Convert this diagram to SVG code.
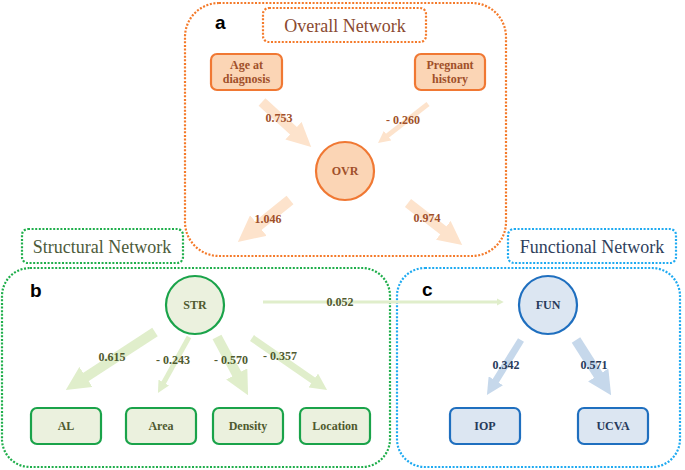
<svg xmlns="http://www.w3.org/2000/svg" width="685" height="470" viewBox="0 0 685 470">
<style>
.frame{fill:none;stroke-width:2.2;stroke-dasharray:2 1.6}
.of{stroke:#f47a2a}.gf{stroke:#1fae4b}.bf{stroke:#1eaaf1}
.title{font-family:"Liberation Serif",serif;font-size:18px;text-anchor:middle}
.letter{font-family:"Liberation Sans",Arial,sans-serif;font-weight:bold;font-size:19px;fill:#000}
.nt{font-family:"Liberation Serif",serif;font-weight:bold;font-size:12px;text-anchor:middle}
.on{fill:#fbd5b5;stroke:#f07833;stroke-width:2.2}
.gn{fill:#ebf1de;stroke:#1aa34a;stroke-width:2.2}
.bn{fill:#dce6f2;stroke:#1f6fbf;stroke-width:2.2}
.ot{fill:#a0502a}.gt{fill:#4f5a2f}.bt{fill:#263a5a}
.oa{stroke:#fde3cc;fill:none}.ga{stroke:#e0eecb;fill:none}.ba{stroke:#c6d8eb;fill:none}
</style>
<defs>
<marker id="ho" viewBox="0 0 10 10" refX="2" refY="5" markerWidth="2.4" markerHeight="2.4" orient="auto" markerUnits="strokeWidth"><path d="M0,0 L10,5 L0,10 z" fill="#fde3cc"/></marker>
<marker id="hg" viewBox="0 0 10 10" refX="2" refY="5" markerWidth="2.4" markerHeight="2.4" orient="auto" markerUnits="strokeWidth"><path d="M0,0 L10,5 L0,10 z" fill="#e0eecb"/></marker>
<marker id="hb" viewBox="0 0 10 10" refX="2" refY="5" markerWidth="2.4" markerHeight="2.4" orient="auto" markerUnits="strokeWidth"><path d="M0,0 L10,5 L0,10 z" fill="#c6d8eb"/></marker>
</defs>
<rect width="685" height="470" fill="#fff"/>

<g id="frames">
<rect class="frame of" x="185" y="3" width="321" height="253" rx="34"/>
<rect class="frame of" x="263" y="8" width="163" height="34" rx="6"/>
<rect class="frame gf" x="2" y="268" width="388" height="199" rx="28"/>
<rect class="frame gf" x="22" y="229" width="161" height="34" rx="6"/>
<rect class="frame bf" x="397" y="268" width="283" height="199" rx="28"/>
<rect class="frame bf" x="508" y="229" width="168" height="34" rx="6"/>
<text class="title" x="345" y="32" fill="#8a4a30">Overall Network</text>
<text class="title" x="102" y="253" fill="#4d5b3a">Structural Network</text>
<text class="title" x="592" y="253" fill="#2f3f5c">Functional Network</text>
<text class="letter" x="215" y="29">a</text>
<text class="letter" x="30" y="297">b</text>
<text class="letter" x="422" y="296">c</text>
</g>

<g id="connectors">
<line class="oa" stroke-width="10" x1="262" y1="102" x2="297" y2="134" marker-end="url(#ho)"/>
<line class="oa" stroke-width="5" x1="428" y1="104" x2="385.6" y2="137.1" marker-end="url(#ho)"/>
<line class="oa" stroke-width="11" x1="290" y1="200" x2="254.3" y2="228.8" marker-end="url(#ho)"/>
<line class="oa" stroke-width="10" x1="408" y1="203" x2="447" y2="233.3" marker-end="url(#ho)"/>
<line class="ga" stroke-width="10" x1="155" y1="332" x2="81.9" y2="379.6" marker-end="url(#hg)"/>
<line class="ga" stroke-width="5" x1="189" y1="337" x2="162.6" y2="384.6" marker-end="url(#hg)"/>
<line class="ga" stroke-width="10" x1="217" y1="337" x2="239" y2="378.2" marker-end="url(#hg)"/>
<line class="ga" stroke-width="7" x1="252" y1="338" x2="316" y2="382.4" marker-end="url(#hg)"/>
<line class="ga" stroke-width="3" x1="263" y1="302" x2="498" y2="302" marker-end="url(#hg)"/>
<line class="ba" stroke-width="7" x1="521" y1="340" x2="494" y2="383.6" marker-end="url(#hb)"/>
<line class="ba" stroke-width="10" x1="576" y1="340" x2="600.8" y2="379" marker-end="url(#hb)"/>
<text class="nt ot" x="279" y="122">0.753</text>
<text class="nt ot" x="403" y="124">- 0.260</text>
<text class="nt ot" x="268" y="223">1.046</text>
<text class="nt ot" x="427" y="222">0.974</text>
<text class="nt gt" x="112" y="361">0.615</text>
<text class="nt gt" x="173" y="364">- 0.243</text>
<text class="nt gt" x="231" y="364">- 0.570</text>
<text class="nt gt" x="280" y="360">- 0.357</text>
<text class="nt gt" x="340" y="306">0.052</text>
<text class="nt bt" x="506" y="369">0.342</text>
<text class="nt bt" x="594" y="369">0.571</text>
</g>

<g id="age">
<rect class="on" x="211" y="54" width="71" height="36" rx="6"/>
<text class="nt ot" x="246.5" y="69">Age at</text>
<text class="nt ot" x="246.5" y="83">diagnosis</text>
</g>
<g id="pregnant">
<rect class="on" x="415" y="54" width="70" height="36" rx="6"/>
<text class="nt ot" x="450" y="69">Pregnant</text>
<text class="nt ot" x="450" y="83">history</text>
</g>
<g id="ovr">
<circle class="on" cx="345" cy="171" r="29"/>
<text class="nt ot" x="345" y="175">OVR</text>
</g>
<g id="str">
<circle class="gn" cx="195" cy="305" r="29"/>
<text class="nt gt" x="195" y="309">STR</text>
</g>
<g id="al">
<rect class="gn" x="31" y="408" width="70" height="36" rx="6"/>
<text class="nt gt" x="66" y="430">AL</text>
</g>
<g id="area">
<rect class="gn" x="126" y="408" width="70" height="36" rx="6"/>
<text class="nt gt" x="161" y="430">Area</text>
</g>
<g id="density">
<rect class="gn" x="213" y="408" width="70" height="36" rx="6"/>
<text class="nt gt" x="248" y="430">Density</text>
</g>
<g id="location">
<rect class="gn" x="300" y="408" width="70" height="36" rx="6"/>
<text class="nt gt" x="335" y="430">Location</text>
</g>
<g id="fun">
<circle class="bn" cx="548" cy="305" r="29"/>
<text class="nt bt" x="548" y="309">FUN</text>
</g>
<g id="iop">
<rect class="bn" x="450" y="408" width="70" height="36" rx="6"/>
<text class="nt bt" x="485" y="430">IOP</text>
</g>
<g id="ucva">
<rect class="bn" x="578" y="408" width="70" height="36" rx="6"/>
<text class="nt bt" x="613" y="430">UCVA</text>
</g>
</svg>
